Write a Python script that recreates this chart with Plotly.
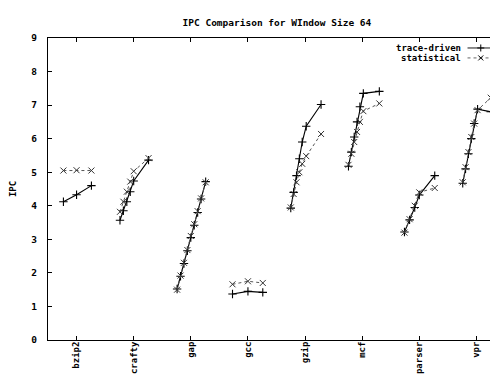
import plotly.graph_objects as go

benchmarks = ["bzip2", "crafty", "gap", "gcc", "gzip", "mcf", "parser", "vpr"]
y_ticks = [0, 1, 2, 3, 4, 5, 6, 7, 8, 9]

# sub-positions (offset within a benchmark slot) and IPC values, per benchmark
bzip2_off = [-0.23, 0.0, 0.26]
bzip2_trace = [4.12, 4.33, 4.60]
bzip2_stat = [5.05, 5.06, 5.05]

crafty_off = [-0.24, -0.18, -0.12, -0.06, 0.0, 0.26]
crafty_trace = [3.57, 3.85, 4.12, 4.42, 4.74, 5.36]
crafty_stat = [3.82, 4.12, 4.42, 4.72, 5.03, 5.42]

gap_off = [-0.24, -0.18, -0.12, -0.06, 0.0, 0.06, 0.12, 0.18, 0.26]
gap_trace = [1.52, 1.90, 2.28, 2.66, 3.05, 3.42, 3.80, 4.20, 4.72]
gap_stat = [1.50, 1.92, 2.30, 2.68, 3.10, 3.45, 3.84, 4.22, 4.70]

gcc_off = [-0.27, 0.0, 0.26]
gcc_trace = [1.37, 1.45, 1.42]
gcc_stat = [1.66, 1.75, 1.70]

gzip_off = [-0.25, -0.2, -0.15, -0.1, -0.05, 0.02, 0.28]
gzip_trace = [3.93, 4.40, 4.90, 5.40, 5.90, 6.37, 7.02]
gzip_stat = [3.95, 4.35, 4.70, 5.00, 5.25, 5.48, 6.14]

mcf_off = [-0.24, -0.19, -0.14, -0.09, -0.04, 0.02, 0.30]
mcf_trace = [5.18, 5.60, 6.05, 6.50, 6.95, 7.35, 7.41]
mcf_stat = [5.22, 5.55, 5.90, 6.20, 6.50, 6.82, 7.05]

parser_off = [-0.26, -0.17, -0.08, 0.0, 0.27]
parser_trace = [3.22, 3.58, 3.95, 4.32, 4.90]
parser_stat = [3.20, 3.60, 4.00, 4.40, 4.53]

vpr_off = [-0.24, -0.19, -0.14, -0.09, -0.04, 0.02, 0.25]
vpr_trace = [4.67, 5.10, 5.55, 6.00, 6.45, 6.88, 6.80]
vpr_stat = [4.70, 5.15, 5.60, 6.05, 6.45, 6.85, 7.22]

series_names = ["trace-driven", "statistical"]

offsets = [bzip2_off, crafty_off, gap_off, gcc_off, gzip_off, mcf_off, parser_off, vpr_off]
trace_vals = [bzip2_trace, crafty_trace, gap_trace, gcc_trace, gzip_trace, mcf_trace, parser_trace, vpr_trace]
stat_vals = [bzip2_stat, crafty_stat, gap_stat, gcc_stat, gzip_stat, mcf_stat, parser_stat, vpr_stat]


def build(values):
    xs, ys = [], []
    for i, (offs, vals) in enumerate(zip(offsets, values)):
        xs += [i + 1 + o for o in offs] + [None]
        ys += list(vals) + [None]
    return xs, ys


tx, ty = build(trace_vals)
sx, sy = build(stat_vals)

FONT = "DejaVu Sans Mono"
styles = [
    dict(line=dict(color="black", width=1.1),
         marker=dict(symbol="cross-thin", size=6, line=dict(color="black", width=1.1))),
    dict(line=dict(color="#555555", width=1, dash="dot"),
         marker=dict(symbol="x-thin", size=6, line=dict(color="#333333", width=1))),
]

fig = go.Figure()
for (xs, ys), name, st in zip([(tx, ty), (sx, sy)], series_names, styles):
    fig.add_trace(go.Scatter(x=xs, y=ys, mode="lines+markers", name=name,
                             line=st["line"], marker=st["marker"],
                             connectgaps=False, showlegend=False))

# gnuplot-style key: text right-aligned, sample to its right (drawn on a hidden overlay axis)
key_rows = [0.967, 0.934]
for name, st, yk in zip(series_names, styles, key_rows):
    fig.add_trace(go.Scatter(x=[0.918, 0.947, 0.978], y=[yk, yk, yk], mode="lines",
                             line=dict(color=st["line"]["color"], width=0.9,
                                       dash=st["line"].get("dash", "solid")),
                             xaxis="x2", yaxis="y2", showlegend=False, hoverinfo="skip"))
    fig.add_trace(go.Scatter(x=[0.947], y=[yk], mode="markers",
                             marker=dict(symbol=st["marker"]["symbol"], size=5,
                                         line=dict(color="black", width=1)),
                             xaxis="x2", yaxis="y2", showlegend=False, hoverinfo="skip"))
    fig.add_annotation(x=0.908, y=yk, xref="x2", yref="y2", text=name, showarrow=False,
                       xanchor="right", yanchor="middle",
                       font=dict(family=FONT, size=9, color="black", weight="bold"))

axis_common = dict(
    showline=True, linecolor="black", linewidth=1, mirror="allticks",
    ticks="inside", ticklen=4, tickcolor="black", showgrid=False, zeroline=False,
    tickfont=dict(family=FONT, size=9.5, color="black", weight="bold"),
)

fig.update_layout(
    width=498, height=374,
    margin=dict(l=40, r=1, t=30, b=42),
    paper_bgcolor="white", plot_bgcolor="white",
    title=dict(text="IPC Comparison for WIndow Size 64", x=0.54, xanchor="center",
               y=0.962, yanchor="middle",
               font=dict(family=FONT, size=9.5, color="black", weight="bold")),
    xaxis=dict(range=[0.5, 8.5], tickmode="array", tickvals=list(range(1, len(benchmarks) + 1)),
               ticktext=benchmarks, tickangle=-90, ticklabelstandoff=-3,
               **{**axis_common, "tickfont": dict(family=FONT, size=9, color="black", weight="bold")}),
    yaxis=dict(range=[0, 9], tickmode="array", tickvals=y_ticks,
               ticktext=[str(v) for v in y_ticks], ticklabelstandoff=8,
               title=dict(text="IPC", standoff=14,
                          font=dict(family=FONT, size=9, color="black", weight="bold")),
               **axis_common),
    xaxis2=dict(overlaying="x", range=[0, 1], visible=False, fixedrange=True),
    yaxis2=dict(overlaying="y", range=[0, 1], visible=False, fixedrange=True),
)

fig.write_html("out.html")
